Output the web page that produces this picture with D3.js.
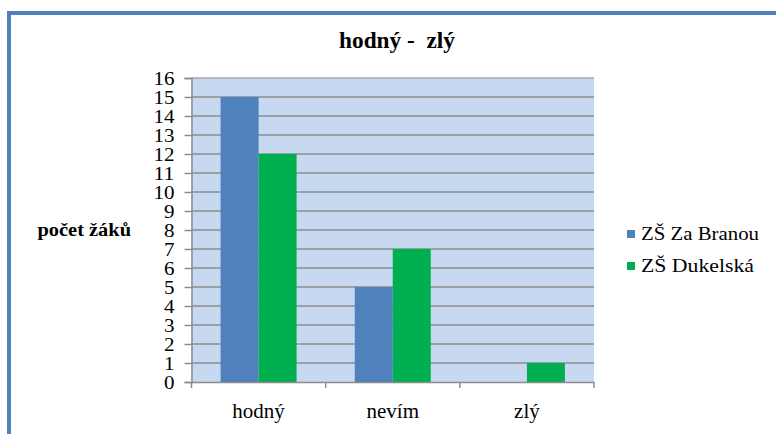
<!DOCTYPE html>
<html><head><meta charset="utf-8">
<script src="https://cdn.jsdelivr.net/npm/d3@7"></script>
<style>html,body{margin:0;padding:0;background:#fff;}svg{display:block;}</style>
</head><body>
<script>
const categories = ["hodný", "nevím", "zlý"];
const seriesNames = ["ZŠ Za Branou", "ZŠ Dukelská"];
const zaBranou = [15, 5, 0];
const dukelska = [12, 7, 1];
const yTicks = [0,1,2,3,4,5,6,7,8,9,10,11,12,13,14,15,16];
const titleText = "hodný -\u00a0 zlý";
const yTitleText = "počet žáků";

const colors = ["#4f81bd", "#00b050"];
const W = 776, H = 434;
const plot = {x0: 191.5, x1: 594, y0: 78, y1: 382};
const FONT = "Liberation Serif";

const svg = d3.select("body").append("svg").attr("width", W).attr("height", H)
  .attr("font-family", FONT).style("font-family", `"${FONT}"`);

function setFont(sel) {
  return sel.attr("font-family", FONT).style("font-family", d => `"${FONT}"`);
}

// outer frame
svg.append("rect").attr("x", 9).attr("y", 13).attr("width", 900).attr("height", 600)
  .attr("fill", "#fff").attr("stroke", "#4f81bd").attr("stroke-width", 4);

const x = d3.scaleBand().domain(categories).range([plot.x0, plot.x1]).paddingInner(0).paddingOuter(0);
const y = d3.scaleLinear().domain([0, 16]).range([plot.y1, plot.y0]);

// plot background
svg.append("rect").attr("x", plot.x0).attr("y", plot.y0)
  .attr("width", plot.x1 - plot.x0).attr("height", plot.y1 - plot.y0).attr("fill", "#c6d9f1");

// gridlines
svg.append("g").selectAll("line").data(yTicks.filter(d => d > 0)).join("line")
  .attr("x1", plot.x0).attr("x2", plot.x1)
  .attr("y1", d => y(d)).attr("y2", d => y(d))
  .attr("stroke", d => d === 16 ? "#a6a6a6" : "#8c8c8c").attr("stroke-width", 1.5);

// bars
const data = [zaBranou, dukelska];
const barW = 38;
data.forEach((vals, si) => {
  svg.append("g").selectAll("rect").data(vals.map((v, i) => ({c: categories[i], v}))).join("rect")
    .attr("x", d => x(d.c) + x.bandwidth() / 2 - barW + si * barW)
    .attr("width", barW)
    .attr("y", d => y(d.v))
    .attr("height", d => y(0) - y(d.v))
    .attr("fill", colors[si]);
});

// y axis
const yAxis = d3.axisLeft(y).tickValues(yTicks).tickSize(7).tickPadding(10).tickFormat(d3.format("d"));
const gy = svg.append("g").attr("transform", `translate(${plot.x0},0)`).call(yAxis);
setFont(gy);
gy.select(".domain").attr("stroke", "#8c8c8c").attr("stroke-width", 1.5);
gy.selectAll(".tick line").attr("stroke", "#8c8c8c").attr("stroke-width", 1.5);
setFont(gy.selectAll(".tick text")).attr("font-size", 19).attr("fill", "#000")
  .attr("dy", "0.34em")
  .attr("textLength", d => d >= 10 ? 21 : 10.5).attr("lengthAdjust", "spacingAndGlyphs");

// x axis
const xAxis = d3.axisBottom(x).tickSize(0).tickPadding(0);
const gx = svg.append("g").attr("transform", `translate(0,${plot.y1})`).call(xAxis);
setFont(gx);
gx.select(".domain").attr("stroke", "#8c8c8c").attr("stroke-width", 1.5);
setFont(gx.selectAll(".tick text")).attr("font-size", 21).attr("fill", "#000")
  .attr("y", 36).attr("dy", 0);
// category boundary ticks
const bounds = categories.map(c => x(c)).concat([plot.x1]);
svg.append("g").selectAll("line").data(bounds).join("line")
  .attr("x1", d => d).attr("x2", d => d).attr("y1", plot.y1).attr("y2", plot.y1 + 6)
  .attr("stroke", "#8c8c8c").attr("stroke-width", 1.5);

// title
setFont(svg.append("text")).attr("x", 339).attr("y", 48).text(titleText)
  .attr("font-weight", "bold").attr("font-size", 23)
  .attr("textLength", 116).attr("lengthAdjust", "spacingAndGlyphs");

// y title
setFont(svg.append("text")).attr("x", 37.5).attr("y", 236).text(yTitleText)
  .attr("font-weight", "bold").attr("font-size", 18)
  .attr("textLength", 93.5).attr("lengthAdjust", "spacingAndGlyphs");

// legend
const lg = svg.append("g").selectAll("g").data(seriesNames).join("g")
  .attr("transform", (d, i) => `translate(627,${240 + i * 32})`);
lg.append("rect").attr("x", 0).attr("y", -10).attr("width", 8).attr("height", 8)
  .attr("fill", (d, i) => colors[i]);
setFont(lg.append("text")).attr("x", 14).attr("y", 0).text(d => d)
  .attr("font-size", 18)
  .attr("textLength", (d, i) => i === 0 ? 118 : 113).attr("lengthAdjust", "spacingAndGlyphs");
</script>
</body></html>
